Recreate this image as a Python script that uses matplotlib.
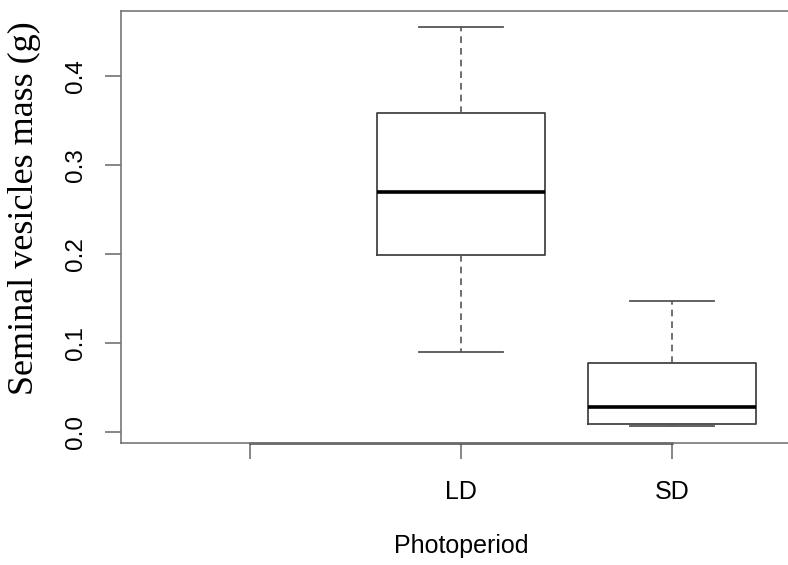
import matplotlib
matplotlib.use("Agg")
import matplotlib.pyplot as plt

# group summaries (whisker low, Q1, median, Q3, whisker high)
groups = ["", "LD", "SD"]
positions = [1, 2, 3]
box_labels = ["LD", "SD"]
whislo = [0.0896, 0.0067]
q1 = [0.199, 0.0093]
med = [0.270, 0.028]
q3 = [0.358, 0.0773]
whishi = [0.455, 0.1466]

stats = []
for i, lab in enumerate(box_labels):
    stats.append(dict(label=lab, whislo=whislo[i], q1=q1[i], med=med[i],
                      q3=q3[i], whishi=whishi[i], fliers=[]))

fig = plt.figure(figsize=(7.88, 5.65), dpi=100)
ax = fig.add_axes([121 / 788, (565 - 443) / 565, (801 - 121) / 788, (443 - 11) / 565])

edge = "#444444"
ax.bxp(stats, positions=positions[1:], widths=0.8, showfliers=False,
       boxprops=dict(color=edge, linewidth=1.3),
       medianprops=dict(color="black", linewidth=2.6),
       whiskerprops=dict(color="#555555", linewidth=1.2, linestyle=(0, (4, 3))),
       capprops=dict(color="#555555", linewidth=1.3), capwidths=0.4)

ax.set_xlim(0.389, 0.389 + 680 / 211)
ax.set_ylim(-0.0124, 0.473)

for s in ["left", "top", "bottom"]:
    ax.spines[s].set_color("#777777")
    ax.spines[s].set_linewidth(1.2)
ax.spines["right"].set_visible(False)

# x axis line between first and last group
ax.plot([positions[0], positions[-1]], [-0.0124, -0.0124], color="#444444",
        linewidth=1.8, clip_on=False)

ax.set_xticks(positions)
ax.set_xticklabels(groups, fontsize=18, family="Liberation Sans")
ax.set_yticks([0.0, 0.1, 0.2, 0.3, 0.4])
ax.set_yticklabels(["0.0", "0.1", "0.2", "0.3", "0.4"], fontsize=17.5,
                   family="Liberation Sans", rotation=90, va="center")
ax.tick_params(axis="both", length=11.5, width=1.1, color="#666666")
ax.tick_params(axis="x", pad=15)
ax.tick_params(axis="y", pad=13)

ax.set_xlabel("Photoperiod", fontsize=18, family="Liberation Sans", labelpad=22)
ax.set_ylabel("Seminal vesicles mass (g)", fontsize=26, family="Liberation Serif")
ax.yaxis.set_label_coords(-0.118, 0.544)

fig.savefig("out.png", dpi=100)
